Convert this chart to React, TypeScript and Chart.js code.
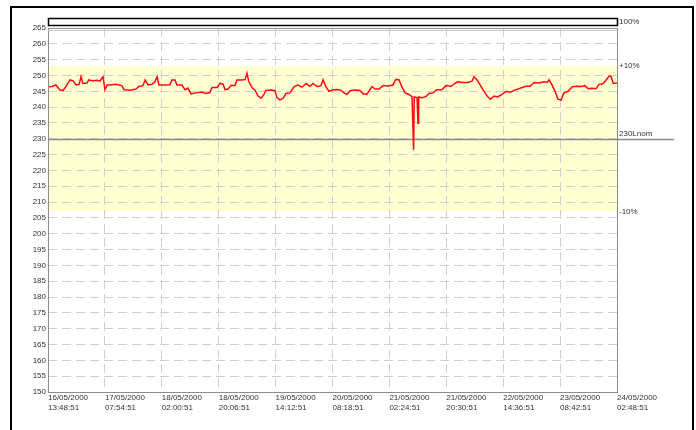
import React, { useEffect, useRef } from 'react';
import { Chart, registerables } from 'chart.js';

Chart.register(...registerables);

// Time of each sample, hours after 16/05/2000 13:48:51
const sampleHours = [
  0, 1.3, 2.5, 3.8, 4.8, 5.7, 7.0, 8.0, 8.9, 9.9, 10.5, 11.1, 12.4, 13.0, 14.3, 15.6, 16.5, 17.5, 18.1, 18.8,
  19.7, 21.6, 23.5, 24.2, 26.1, 28.0, 28.9, 30.2, 30.9, 31.8, 33.1, 34.0, 34.7, 35.3, 37.2, 38.8, 39.4, 40.4, 41.0, 42.6,
  43.6, 44.5, 45.5, 47.1, 48.7, 50.3, 51.5, 52.2, 53.8, 54.7, 55.7, 56.3, 57.3, 58.2, 59.5, 60.1, 61.7, 62.7, 63.3, 63.9,
  64.9, 65.9, 66.8, 67.8, 68.7, 69.3, 70.9, 72.2, 72.8, 73.8, 74.8, 75.7, 77.0, 78.3, 79.5, 80.8, 82.1, 83.3, 84.3, 85.6,
  86.8, 87.5, 88.4, 89.4, 90.7, 91.9, 93.2, 94.2, 95.1, 96.1, 97.7, 99.2, 100.2, 101.4, 102.4, 103.1, 104.0, 105.3, 106.6, 108.2,
  109.7, 110.7, 111.7, 112.6, 113.6, 114.8, 115.8, 116.3, 116.5, 117.4, 117.7, 117.9, 119.0, 120.2, 121.2, 122.5, 123.7, 125.3, 126.6, 128.2,
  129.1, 130.4, 132.0, 133.6, 134.9, 135.5, 136.5, 137.8, 138.7, 139.7, 140.7, 141.9, 143.1, 144.4, 145.7, 147.0, 148.2, 149.5, 150.8, 152.1,
  153.3, 154.6, 156.2, 157.8, 158.7, 159.4, 160.3, 161.3, 162.2, 163.2, 164.1, 165.4, 166.7, 168.0, 169.6, 170.8, 171.8, 173.0, 174.3, 175.3,
  176.5, 177.5, 178.5, 179.1, 179.8, 181,
];

// Measured voltage (V)
const voltage = [
  246.4, 246.5, 247, 245.4, 245.3, 246.5, 248.6, 248.3, 247, 247.2, 249.6, 247.5, 247.6, 248.6, 248.3, 248.5, 248.2, 249.6, 245.5, 247,
  247, 247.2, 246.8, 245.5, 245.3, 245.7, 246.5, 246.8, 248.6, 247, 247.2, 248, 249.6, 247, 247, 247.1, 248.6, 248.6, 247, 247,
  245.5, 246, 244.2, 244.5, 244.8, 244.3, 244.6, 246.2, 246.2, 247.5, 247.3, 245.5, 245.7, 246.8, 246.8, 248.6, 248.6, 248.7, 250.7, 248,
  246.2, 245.3, 243.5, 242.8, 244, 245.3, 245.4, 245.2, 243, 242.3, 242.8, 244.3, 244.5, 246.5, 247, 246.3, 247.5, 246.6, 247.5, 246.5,
  246.7, 248.6, 246.5, 245, 245.5, 245.6, 245.3, 244.5, 244, 245.2, 245.4, 245.3, 244.2, 244, 245.5, 246.5, 245.7, 245.7, 246.8, 246.7,
  247, 248.8, 248.6, 246.3, 244.5, 244, 243.3, 226.5, 243.2, 243, 234.9, 243.2, 243, 243.3, 244.3, 244.5, 245.5, 245.5, 246.8, 246.6,
  247.3, 248, 247.8, 247.8, 248.2, 249.6, 248.6, 246.5, 245, 243.5, 242.5, 243.5, 243.2, 244, 245, 244.7, 245.3, 245.7, 246.2, 246.6,
  246.6, 247.8, 247.6, 248, 247.8, 248.6, 247, 245, 242.5, 242.2, 244.5, 245, 246.4, 246.6, 246.5, 246.8, 245.8, 246, 245.8, 247.2,
  247.4, 248.5, 249.8, 249.7, 247.5, 247.6,
];

const tickHours = [0, 18.1, 36.2, 54.3, 72.4, 90.5, 108.6, 126.7, 144.8, 162.9, 181];
const tickDates = [
  '16/05/2000', '17/05/2000', '18/05/2000', '18/05/2000', '19/05/2000', '20/05/2000',
  '21/05/2000', '21/05/2000', '22/05/2000', '23/05/2000', '24/05/2000',
];
const tickTimes = [
  '13:48:51', '07:54:51', '02:00:51', '20:06:51', '14:12:51', '08:18:51',
  '02:24:51', '20:30:51', '14:36:51', '08:42:51', '02:48:51',
];

const yMin = 150;
const yMax = 265;
const yStep = 5;
const nominal = 230;
const upperLimit = 253;
const lowerLimit = 207;
const topLabel = '100%';
const upperLabel = '+10%';
const nominalLabel = '230Lnom';
const lowerLabel = '-10%';

const FONT = '"Liberation Sans", Arial, sans-serif';

const decorPlugin = {
  id: 'decor',
  beforeDraw(chart: any) {
    const { ctx, chartArea, scales } = chart;
    const y = scales.y;
    const top = y.getPixelForValue(upperLimit);
    const bot = y.getPixelForValue(lowerLimit);
    ctx.save();
    ctx.fillStyle = '#ffffd2';
    ctx.fillRect(chartArea.left, top, chartArea.right - chartArea.left, bot - top);
    ctx.restore();
  },
  beforeDatasetsDraw(chart: any) {
    const { ctx, chartArea, scales } = chart;
    const yN = Math.round(scales.y.getPixelForValue(nominal)) + 0.5;
    ctx.save();
    ctx.strokeStyle = '#8c8c8c';
    ctx.lineWidth = 1.5;
    ctx.beginPath();
    ctx.moveTo(chartArea.left, yN);
    ctx.lineTo(chartArea.right + 57, yN);
    ctx.stroke();
    ctx.restore();
  },
  afterDraw(chart: any) {
    const { ctx, chartArea, scales, width, height } = chart;
    const y = scales.y;
    const { left, right, top, bottom } = chartArea;
    ctx.save();
    // plot frame
    ctx.strokeStyle = '#8c8c8c';
    ctx.lineWidth = 1;
    ctx.strokeRect(left + 0.5, top + 0.5, right - left, bottom - top);
    ctx.beginPath();
    ctx.moveTo(left, top + 2.5);
    ctx.lineTo(right, top + 2.5);
    ctx.strokeStyle = '#c8c8c8';
    ctx.stroke();
    // header box
    ctx.fillStyle = '#ffffff';
    ctx.fillRect(left, top - 10, right - left, 7);
    ctx.strokeStyle = '#000000';
    ctx.lineWidth = 1.5;
    ctx.strokeRect(left + 0.5, top - 9.5, right - left, 7);
    // outer frame (open at the bottom)
    ctx.lineWidth = 2;
    ctx.beginPath();
    ctx.moveTo(11, height);
    ctx.lineTo(11, 7);
    ctx.lineTo(width - 3, 7);
    ctx.lineTo(width - 3, height);
    ctx.stroke();
    // right side labels
    ctx.fillStyle = '#333333';
    ctx.font = `8px ${FONT}`;
    ctx.textAlign = 'left';
    ctx.textBaseline = 'middle';
    ctx.fillText(topLabel, right + 2, top - 6);
    ctx.fillText(upperLabel, right + 2, y.getPixelForValue(upperLimit));
    ctx.fillText(lowerLabel, right + 2, y.getPixelForValue(lowerLimit));
    ctx.textBaseline = 'bottom';
    ctx.fillText(nominalLabel, right + 2, y.getPixelForValue(nominal) - 1);
    ctx.restore();
  },
};

export default function App() {
  const ref = useRef<HTMLCanvasElement | null>(null);
  useEffect(() => {
    if (!ref.current) return;
    const chart = new Chart(ref.current, {
      type: 'line',
      data: {
        datasets: [
          {
            data: sampleHours.map((h, i) => ({ x: h, y: voltage[i] })),
            borderColor: '#ff0a14',
            borderWidth: 1.5,
            pointRadius: 0,
            tension: 0,
            fill: false,
          },
        ],
      },
      options: {
        animation: false,
        responsive: false,
        events: [],
        layout: { padding: { left: 0, top: 28, right: 79, bottom: 0 } },
        plugins: { legend: { display: false }, tooltip: { enabled: false } },
        scales: {
          x: {
            type: 'linear',
            min: tickHours[0],
            max: tickHours[tickHours.length - 1],
            afterBuildTicks: (scale: any) => {
              scale.ticks = tickHours.map((v) => ({ value: v }));
            },
            afterFit: (scale: any) => {
              scale.height = 38;
            },
            grid: { color: '#cfcfcf', lineWidth: 1, drawTicks: false, borderDash: [9, 5] },
            border: { display: false, dash: [9, 5] },
            ticks: {
              autoSkip: false,
              maxRotation: 0,
              minRotation: 0,
              align: 'start',
              padding: 1,
              color: '#333333',
              font: { family: FONT, size: 8, lineHeight: 1.2 },
              callback: (_v: any, i: number) => [tickDates[i], tickTimes[i]],
            },
          },
          y: {
            min: yMin,
            max: yMax,
            afterFit: (scale: any) => {
              scale.width = 48;
            },
            grid: { color: '#cfcfcf', lineWidth: 1, drawTicks: false, borderDash: [9, 5] },
            border: { display: false, dash: [9, 5] },
            ticks: {
              stepSize: yStep,
              autoSkip: false,
              padding: 2,
              color: '#333333',
              font: { family: FONT, size: 8 },
            },
          },
        },
      },
      plugins: [decorPlugin],
    } as any);
    return () => chart.destroy();
  }, []);
  return (
    <div style={{ position: 'absolute', left: 0, top: 0, width: 696, height: 430, background: '#fff' }}>
      <canvas ref={ref} width={696} height={430} style={{ display: 'block' }} />
    </div>
  );
}
